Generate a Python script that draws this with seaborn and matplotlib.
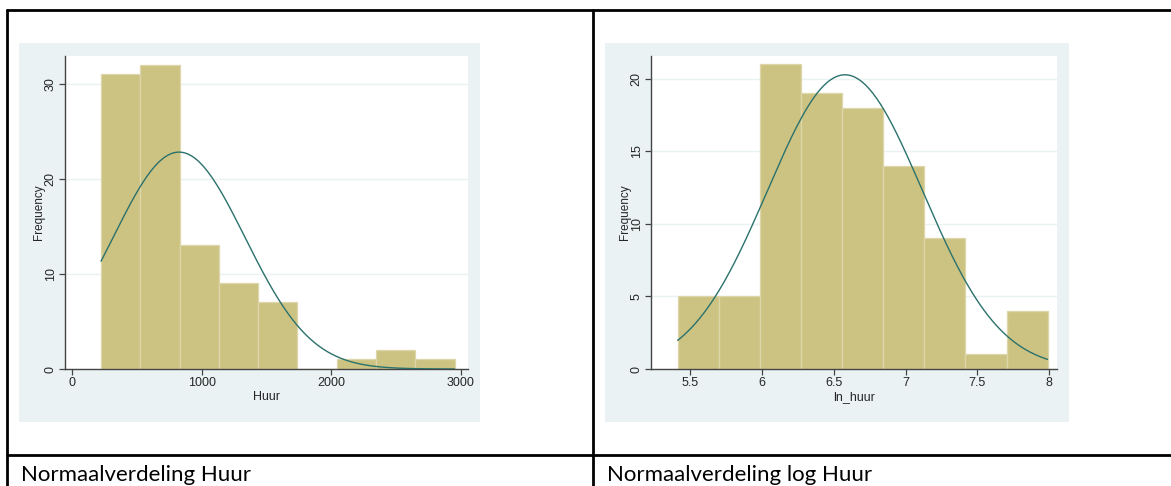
import numpy as np
import pandas as pd
import matplotlib.pyplot as plt
import seaborn as sns
from matplotlib.patches import Rectangle
from matplotlib.lines import Line2D

# --- data ---
huur_edges = [224, 527, 830, 1133, 1436, 1739, 2042, 2345, 2648, 2951]
huur_counts = [31, 32, 13, 9, 7, 0, 1, 2, 1]
huur_mean, huur_sd = 826, 509

ln_edges = [5.412, 5.698, 5.985, 6.271, 6.558, 6.844, 7.131, 7.417, 7.704, 7.990]
ln_counts = [5, 5, 21, 19, 18, 14, 9, 1, 4]
ln_mean, ln_sd = 6.578, 0.540

huur_xticks = [0, 1000, 2000, 3000]
huur_yticks = [0, 10, 20, 30]
ln_xticks = [5.5, 6, 6.5, 7, 7.5, 8]
ln_xlabels = ["5.5", "6", "6.5", "7", "7.5", "8"]
ln_yticks = [0, 5, 10, 15, 20]

captions = ["Normaalverdeling Huur", "Normaalverdeling log Huur"]

BAR = "#CCC382"
BAR_EDGE = "#DDD6AA"
CURVE = "#2B716C"
REGION = "#EAF2F3"

W, H = 1171, 486
sns.set_style("white")
plt.rcParams['font.family'] = ['Liberation Sans', 'DejaVu Sans']


def fx(px):
    return px / W


def fy(py):
    return 1 - py / H


def hist_panel(fig, ax_box, region_box, edges, counts, mean, sd, xlim, ylim,
               xticks, xlabels, yticks, xlabel):
    # grey-blue graph region behind the plot
    rx0, ry0, rx1, ry1 = region_box
    fig.add_artist(Rectangle((fx(rx0), fy(ry1)), fx(rx1 - rx0), (ry1 - ry0) / H,
                             transform=fig.transFigure, facecolor=REGION,
                             edgecolor='none', zorder=0))
    x0, y0, x1, y1 = ax_box
    ax = fig.add_axes([fx(x0), fy(y1), fx(x1 - x0), (y1 - y0) / H])
    ax.set_facecolor("white")

    edge_arr = np.array(edges, dtype=float)
    centers = (edge_arr[:-1] + edge_arr[1:]) / 2
    df = pd.DataFrame({"x": centers, "n": counts})
    sns.histplot(data=df, x="x", weights="n", bins=list(edges), ax=ax, color=BAR,
                 edgecolor=BAR_EDGE, linewidth=0.9, alpha=1, zorder=2)

    # normal density scaled to frequencies
    width = edge_arr[1] - edge_arr[0]
    xs = np.linspace(edge_arr[0], edge_arr[-1], 300)
    ys = sum(counts) * width * np.exp(-0.5 * ((xs - mean) / sd) ** 2) / (sd * np.sqrt(2 * np.pi))
    sns.lineplot(x=xs, y=ys, ax=ax, color=CURVE, linewidth=1.0, zorder=3)

    ax.set_xlim(*xlim)
    ax.set_ylim(*ylim)
    ax.set_xticks(xticks)
    ax.set_xticklabels(xlabels)
    ax.set_yticks(yticks)
    ax.set_yticklabels([str(t) for t in yticks], rotation=90, va='center')
    for t in yticks:
        ax.axhline(t, color=REGION, linewidth=1.0, zorder=1)
    for s in ['top', 'right']:
        ax.spines[s].set_visible(False)
    for s in ['left', 'bottom']:
        ax.spines[s].set_color('#444444')
        ax.spines[s].set_linewidth(1.0)
    ax.tick_params(axis='both', direction='out', length=4, width=0.9,
                   color='#444444', labelsize=9, pad=2, bottom=True, left=True)
    ax.set_xlabel(xlabel, fontsize=9, labelpad=1)
    ax.set_ylabel("Frequency", fontsize=8.5, labelpad=0)
    return ax


fig = plt.figure(figsize=(W / 100, H / 100), dpi=100)

hist_panel(fig, (65, 56, 468, 369), (19, 43, 480, 422),
           huur_edges, huur_counts, huur_mean, huur_sd,
           (-54, 3055), (0, 32.9), huur_xticks, [str(t) for t in huur_xticks],
           huur_yticks, "Huur")

hist_panel(fig, (651, 56, 1057, 369), (605, 43, 1069, 422),
           ln_edges, ln_counts, ln_mean, ln_sd,
           (5.226, 8.056), (0, 21.58), ln_xticks, ln_xlabels,
           ln_yticks, "ln_huur")

# table borders around the two cells
lw = 2.0
for (xa, ya, xb, yb) in [(7, 10, W, 10), (7, 10, 7, H), (593, 10, 593, H), (7, 455, W, 455)]:
    fig.add_artist(Line2D([fx(xa), fx(xb)], [fy(ya), fy(yb)], transform=fig.transFigure,
                          color='black', linewidth=lw))

# captions under each cell
for xpos, txt in zip([21, 607], captions):
    fig.text(fx(xpos), fy(465), txt, ha='left', va='top', fontsize=16,
             family=['Lato', 'DejaVu Sans'], color='black')

fig.savefig("out.png", dpi=100)
